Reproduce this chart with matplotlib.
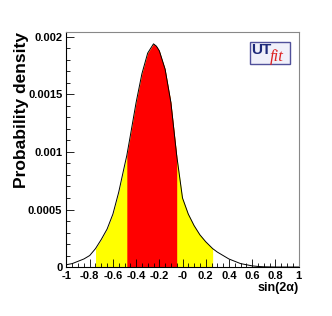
import matplotlib
matplotlib.use("Agg")
import matplotlib.pyplot as plt
import numpy as np
from matplotlib.patches import Rectangle
from matplotlib.ticker import MultipleLocator, FixedLocator

# sin(2alpha) values and probability density
sin2a = np.array([-1.0, -0.95, -0.9, -0.85, -0.8, -0.75, -0.7, -0.65, -0.6, -0.55,
                  -0.5, -0.48, -0.45, -0.4, -0.35, -0.3, -0.275, -0.25, -0.225, -0.2,
                  -0.15, -0.1, -0.05, 0.0, 0.05, 0.1, 0.15, 0.2, 0.26, 0.3,
                  0.35, 0.4, 0.45, 0.5, 0.55, 0.6, 0.65, 0.7, 0.8, 0.9, 1.0])
density = np.array([0.00002, 0.00003, 0.00005, 0.00007, 0.00010, 0.00016, 0.00024, 0.00033, 0.00046, 0.00065,
                    0.00088, 0.00097, 0.00114, 0.00143, 0.00168, 0.00186, 0.00190, 0.00194, 0.00192, 0.00188,
                    0.00172, 0.00143, 0.00097, 0.00060, 0.00046, 0.00036, 0.00028, 0.00022, 0.00016, 0.00013,
                    0.00010, 0.00007, 0.00005, 0.00003, 0.00002, 0.00001, 0.000005, 0.000002, 0.0, 0.0, 0.0])

range_95 = (-0.75, 0.26)
range_68 = (-0.48, -0.05)

xticks = [-1, -0.8, -0.6, -0.4, -0.2, 0, 0.2, 0.4, 0.6, 0.8, 1]
xticklabels = ["-1", "-0.8", "-0.6", "-0.4", "-0.2", "-0", "0.2", "0.4", "0.6", "0.8", "1"]
yticks = [0, 0.0005, 0.001, 0.0015, 0.002]
yticklabels = ["0", "0.0005", "0.001", "0.0015", "0.002"]

plt.rcParams['font.family'] = ['Liberation Sans', 'DejaVu Sans']

fig = plt.figure(figsize=(3.32, 3.16), dpi=100)
ax = fig.add_axes([0.2003, 0.155, 0.6988, 0.7437])

in95 = (sin2a >= range_95[0] - 1e-9) & (sin2a <= range_95[1] + 1e-9)
in68 = (sin2a >= range_68[0] - 1e-9) & (sin2a <= range_68[1] + 1e-9)
ax.fill_between(sin2a, 0, density, where=in95, color="#ffff00", lw=0)
ax.fill_between(sin2a, 0, density, where=in68, color="#ff0000", lw=0)
ax.plot(sin2a, density, color="black", lw=0.7)

ax.set_xlim(-1, 1)
ax.set_ylim(0, 0.002043)

ax.xaxis.set_major_locator(FixedLocator(xticks))
ax.set_xticklabels(xticklabels)
ax.xaxis.set_minor_locator(MultipleLocator(0.05))
ax.yaxis.set_major_locator(FixedLocator(yticks))
ax.set_yticklabels(yticklabels)
ax.yaxis.set_minor_locator(MultipleLocator(0.0001))

ax.tick_params(which="both", direction="in", top=False, right=False,
               labelsize=8, width=0.6, color="black")
ax.tick_params(which="major", length=6, pad=3)
ax.tick_params(which="minor", length=3)
for lab in ax.get_xticklabels() + ax.get_yticklabels():
    lab.set_fontweight("bold")

for side in ["top", "right"]:
    ax.spines[side].set_color("#888888")
    ax.spines[side].set_linewidth(0.8)
for side in ["left", "bottom"]:
    ax.spines[side].set_color("black")
    ax.spines[side].set_linewidth(0.8)

fig.text(0.899, 0.088, "sin(2\u03b1)", ha="right", va="center", fontsize=9, fontweight="bold")
fig.text(0.066, 0.9, "Probability density", rotation=90, ha="center", va="top",
         fontsize=12.5, fontweight="bold")

# UTfit logo
ax.add_patch(Rectangle((0.791, 0.864), 0.172, 0.093, transform=ax.transAxes,
                       fc="#f0f0fa", ec="#50509a", lw=1.0, zorder=5))
ax.text(0.797, 0.925, "UT", transform=ax.transAxes, ha="left", va="center",
        fontsize=11, fontweight="bold", color="#1e2a7a", zorder=6)
ax.text(0.878, 0.893, "fit", transform=ax.transAxes, ha="left", va="center",
        fontsize=12, style="italic", family="Liberation Serif", color="#dd2222", zorder=6)

fig.savefig("out.png", dpi=100)
